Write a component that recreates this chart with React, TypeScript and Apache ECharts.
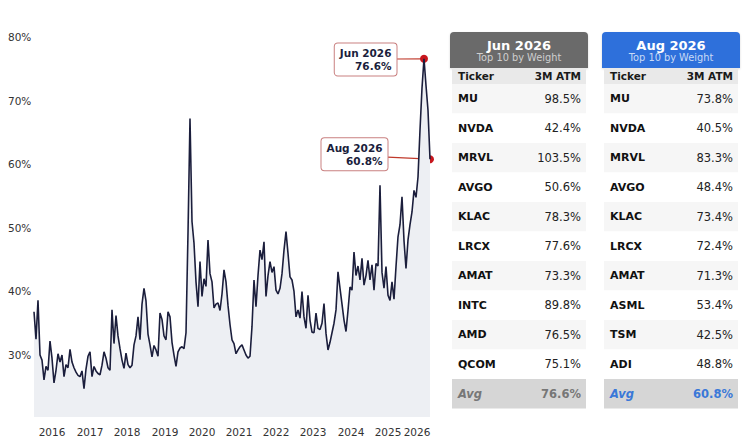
import React, { useEffect, useRef } from 'react';
import * as echarts from 'echarts';

const volValues: number[] = [
  36.8, 32.5, 38.6, 30.0, 29.2, 26.1, 28.2, 27.6, 32.2, 29.5,
  25.6, 27.6, 30.2, 28.9, 30.0, 26.6, 28.5, 28.0, 30.9, 28.9,
  28.0, 27.3, 26.8, 26.6, 27.5, 24.7, 27.8, 29.8, 30.5, 26.6,
  28.2, 27.5, 27.1, 26.9, 28.4, 30.5, 29.5, 28.0, 27.6, 37.1,
  31.8, 36.2, 33.0, 31.0, 29.2, 27.9, 30.3, 28.5, 28.0, 28.4,
  31.6, 33.0, 36.0, 32.4, 38.0, 40.5, 38.5, 33.3, 31.6, 29.7,
  31.5, 30.8, 29.8, 36.6, 35.6, 33.0, 32.4, 36.8, 36.0, 32.0,
  30.0, 28.2, 30.5, 31.1, 31.3, 31.0, 33.5, 49.2, 67.2, 51.0,
  47.6, 41.5, 37.6, 44.7, 39.2, 42.0, 40.8, 48.1, 42.8, 41.5,
  37.4, 38.0, 38.2, 37.0, 39.6, 43.4, 41.5, 37.8, 34.8, 32.4,
  31.8, 30.2, 30.8, 31.3, 31.6, 30.8, 30.0, 29.5, 29.8, 34.5,
  41.8, 37.6, 42.5, 46.5, 45.0, 47.8, 39.2, 42.5, 44.7, 43.0,
  43.9, 40.2, 39.6, 40.5, 42.8, 46.5, 49.4, 46.0, 42.3, 41.8,
  40.0, 36.0, 37.1, 35.8, 40.0, 36.0, 34.2, 39.4, 35.5, 33.6,
  33.5, 36.6, 34.2, 34.0, 35.0, 38.1, 33.4, 30.8, 32.0, 33.5,
  35.0, 37.1, 43.1, 40.5, 38.0, 35.5, 33.7, 37.0, 40.7, 40.2,
  46.2, 42.5, 44.0, 41.8, 45.2, 41.0, 42.5, 44.9, 41.8, 44.2,
  40.2, 44.4, 44.0, 56.7, 43.0, 40.5, 43.9, 39.4, 38.6, 41.5,
  38.8, 43.9, 48.6, 50.5, 54.9, 48.0, 43.6, 48.1, 50.5, 52.5,
  55.9, 54.8, 58.0, 65.4, 72.0, 76.6, 72.4, 68.5, 60.8,
];

const yearLabels = ['2016', '2017', '2018', '2019', '2020', '2021', '2022', '2023', '2024', '2025', '2026'];
const yearTickIdx = [9, 28, 46.5, 65.5, 84, 102.5, 121, 139.5, 158.5, 177, 191.5];
const yTickValues = [30, 40, 50, 60, 70, 80];

const annotLabels = ['Jun 2026', 'Aug 2026'];
const annotIdx = [195, 198];

const junTickers = ['MU', 'NVDA', 'MRVL', 'AVGO', 'KLAC', 'LRCX', 'AMAT', 'INTC', 'AMD', 'QCOM'];
const junVols = [98.5, 42.4, 103.5, 50.6, 78.3, 77.6, 73.3, 89.8, 76.5, 75.1];
const augTickers = ['MU', 'NVDA', 'MRVL', 'AVGO', 'KLAC', 'LRCX', 'AMAT', 'ASML', 'TSM', 'ADI'];
const augVols = [73.8, 40.5, 83.3, 48.4, 73.4, 72.4, 71.3, 53.4, 42.5, 48.8];

const FONT = 'DejaVu Sans';

function txt(x: number, y: number, text: string, size: number, weight: string, fill: string, align: string, extra: any = {}) {
  return {
    type: 'text',
    x,
    y,
    silent: true,
    style: {
      text,
      fill,
      font: `${extra.italic ? 'italic ' : ''}${weight} ${size}px "${FONT}"`,
      align,
      verticalAlign: 'middle',
      textAlign: align,
      textVerticalAlign: 'middle',
    },
  };
}

function buildTable(x0: number, title: string, headerColor: string, subColor: string, tickers: string[], vols: number[], avgColor: string) {
  const els: any[] = [];
  const W = 138;
  els.push({ type: 'rect', silent: true, shape: { x: x0, y: 32, width: W, height: 36, r: [4, 4, 0, 0] }, style: { fill: headerColor, shadowBlur: 2, shadowColor: 'rgba(0,0,0,0.15)', shadowOffsetY: 1 } });
  els.push(txt(x0 + W / 2, 45, title, 13, 'bold', '#ffffff', 'center'));
  els.push(txt(x0 + W / 2, 57.5, 'Top 10 by Weight', 9.8, 'normal', subColor, 'center'));
  els.push({ type: 'rect', silent: true, shape: { x: x0 + 2, y: 68, width: W - 4, height: 16 }, style: { fill: '#e9e9e9' } });
  els.push(txt(x0 + 8, 76, 'Ticker', 10.5, 'bold', '#1a1a1a', 'left'));
  els.push(txt(x0 + 131, 76, '3M ATM', 10.5, 'bold', '#1a1a1a', 'right'));
  const rowH = 29.5;
  tickers.forEach((t, i) => {
    const y = 84 + rowH * i;
    els.push({ type: 'rect', silent: true, shape: { x: x0 + 2, y, width: W - 4, height: rowH }, style: { fill: i % 2 === 0 ? '#f6f6f6' : '#ffffff' } });
    els.push(txt(x0 + 8, y + rowH / 2, t, 11, 'bold', '#111111', 'left'));
    els.push(txt(x0 + 131, y + rowH / 2, vols[i].toFixed(1) + '%', 11.5, 'normal', '#222222', 'right'));
  });
  const avg = vols.reduce((a, b) => a + b, 0) / vols.length;
  const ay = 84 + rowH * tickers.length;
  els.push({ type: 'rect', silent: true, shape: { x: x0 + 2, y: ay, width: W - 4, height: rowH }, style: { fill: '#d6d6d6' } });
  els.push(txt(x0 + 8, ay + rowH / 2, 'Avg', 11.5, 'bold', avgColor, 'left', { italic: true }));
  els.push(txt(x0 + 131, ay + rowH / 2, avg.toFixed(1) + '%', 11.5, 'bold', avgColor, 'right'));
  return els;
}

export default function App() {
  const ref = useRef<HTMLDivElement>(null);
  useEffect(() => {
    const chart = echarts.init(ref.current!, null, { renderer: 'svg' });
    chart.setOption({
      animation: false,
      textStyle: { fontFamily: FONT },
      grid: { left: 34, right: 318, top: 20, bottom: 28 },
      xAxis: {
        type: 'value',
        min: 0,
        max: volValues.length - 1,
        axisLine: { show: false },
        axisTick: { show: false },
        splitLine: { show: false },
        axisLabel: {
          customValues: yearTickIdx,
          formatter: (v: number) => {
            const k = yearTickIdx.indexOf(v);
            return k >= 0 ? yearLabels[k] : '';
          },
          hideOverlap: false,
          fontSize: 10.5,
          color: '#333',
          margin: 9,
          fontFamily: FONT,
        },
      },
      yAxis: {
        type: 'value',
        min: 20.25,
        max: 82.7,
        axisLine: { show: false },
        axisTick: { show: false },
        splitLine: { show: false },
        axisLabel: {
          customValues: yTickValues,
          formatter: (v: number) => v + '%',
          align: 'left',
          margin: 26,
          fontSize: 10.5,
          color: '#333',
          fontFamily: FONT,
        },
      },
      series: [
        {
          type: 'line',
          data: volValues.map((v, i) => [i, v]),
          showSymbol: false,
          silent: true,
          lineStyle: { color: '#1b1e3c', width: 1.6 },
          areaStyle: { color: '#edeff3', origin: 'start', opacity: 1 },
        },
      ],
    });

    const graphics: any[] = [];
    const boxOffsets = [
      [-27.5, 0.6],
      [-42.5, -5],
    ];
    annotIdx.forEach((idx, k) => {
      const val = volValues[idx];
      const pt = chart.convertToPixel({ gridIndex: 0 }, [idx, val]) as number[];
      const bx = pt[0] + boxOffsets[k][0];
      const cy = pt[1] + boxOffsets[k][1];
      graphics.push({
        type: 'line',
        silent: true,
        shape: { x1: bx, y1: cy + (pt[1] - cy) * 0.6, x2: pt[0], y2: pt[1] },
        style: { stroke: '#c0392b', lineWidth: 1.2 },
      });
      graphics.push({
        type: 'circle',
        silent: true,
        shape: { cx: pt[0], cy: pt[1], r: 4 },
        style: { fill: '#c8161d' },
      });
      graphics.push({
        type: 'text',
        silent: true,
        x: bx,
        y: cy,
        style: {
          text: `${annotLabels[k]}\n${val.toFixed(1)}%`,
          font: `bold 10.5px "${FONT}"`,
          fill: '#1b1e3c',
          align: 'right',
          verticalAlign: 'middle',
          textAlign: 'right',
          textVerticalAlign: 'middle',
          lineHeight: 13,
          backgroundColor: '#ffffff',
          borderColor: '#c98080',
          borderWidth: 1,
          borderRadius: 3,
          padding: [3, 5, 3, 5],
        },
      });
    });

    graphics.push(...buildTable(450, 'Jun 2026', '#6a6a6a', '#cfcfcf', junTickers, junVols, '#777777'));
    graphics.push(...buildTable(602, 'Aug 2026', '#2e6fdb', '#c9dbf6', augTickers, augVols, '#3a78d8'));

    chart.setOption({ graphic: { elements: graphics } });

    return () => chart.dispose();
  }, []);

  return <div ref={ref} style={{ position: 'absolute', left: 0, top: 0, width: 748, height: 445 }} />;
}
